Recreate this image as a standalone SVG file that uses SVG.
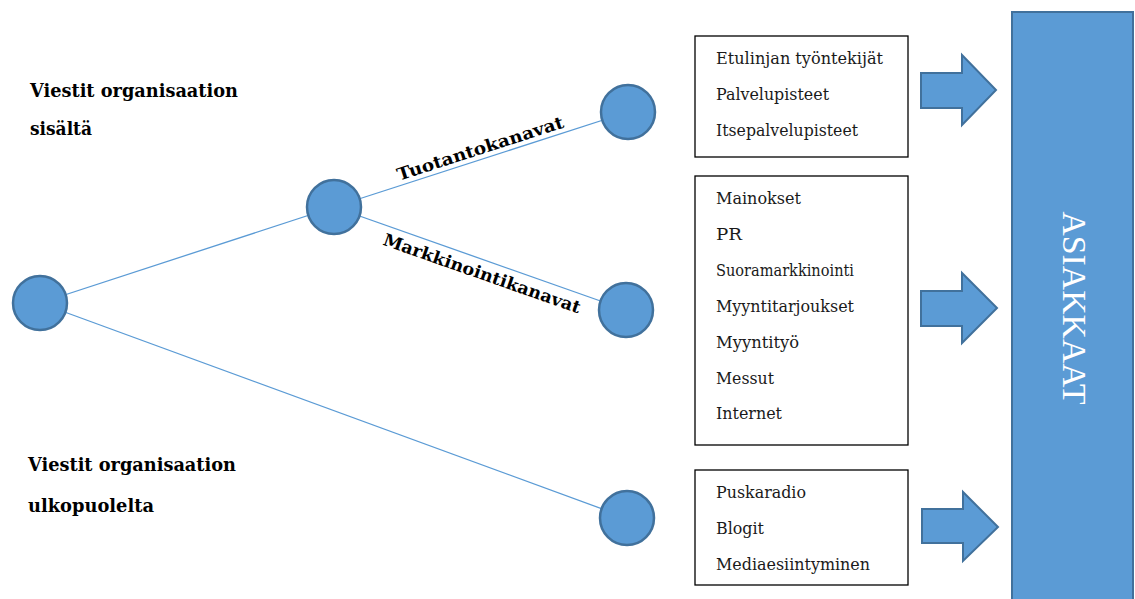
<svg xmlns="http://www.w3.org/2000/svg" width="1135" height="599" viewBox="0 0 1135 599">
  <style>
    .node { fill: #5B9BD5; stroke: #41719C; stroke-width: 2.5; }
    .edge { stroke: #5B9BD5; stroke-width: 1.3; fill: none; }
    .box { fill: #FFFFFF; stroke: #000000; stroke-width: 1.3; }
    .serif { font-family: "DejaVu Serif", "Liberation Serif", serif; }
    .item { font-size: 16px; fill: #1a1a1a; }
    .head { font-size: 18px; font-weight: bold; fill: #000000; }
    .edgelabel { font-size: 17px; font-weight: bold; fill: #000000; }
    .block { fill: #5B9BD5; stroke: #41719C; stroke-width: 2; }
    .bar-text { font-size: 33px; fill: #FFFFFF; }
  </style>

  <!-- connectors -->
  <g id="connectors" class="serif">
    <line class="edge" x1="40" y1="303" x2="334" y2="207"/>
    <line class="edge" x1="40" y1="303" x2="627" y2="518"/>
    <line class="edge" x1="334" y1="207" x2="628" y2="112"/>
    <line class="edge" x1="334" y1="207" x2="626" y2="310"/>
    <text class="edgelabel" text-anchor="middle" textLength="174" lengthAdjust="spacingAndGlyphs" transform="translate(482,154) rotate(-17.9)">Tuotantokanavat</text>
    <text class="edgelabel" text-anchor="middle" textLength="208" lengthAdjust="spacingAndGlyphs" transform="translate(480,279) rotate(19.4)">Markkinointikanavat</text>
  </g>

  <!-- branch nodes -->
  <g id="root"><circle class="node" cx="40" cy="303" r="27"/></g>
  <g id="internal"><circle class="node" cx="334" cy="207" r="27"/></g>
  <g id="production"><circle class="node" cx="628" cy="112" r="27"/></g>
  <g id="marketing"><circle class="node" cx="626" cy="310" r="27"/></g>
  <g id="external"><circle class="node" cx="627" cy="518" r="27"/></g>

  <g class="serif">
    <!-- side headings -->
    <g id="heading-inside">
      <text class="head" x="30" y="97" textLength="208" lengthAdjust="spacingAndGlyphs">Viestit organisaation</text>
      <text class="head" x="30" y="135" textLength="62" lengthAdjust="spacingAndGlyphs">sisältä</text>
    </g>
    <g id="heading-outside">
      <text class="head" x="28" y="471" textLength="208" lengthAdjust="spacingAndGlyphs">Viestit organisaation</text>
      <text class="head" x="28" y="512" textLength="126" lengthAdjust="spacingAndGlyphs">ulkopuolelta</text>
    </g>

    <!-- channel lists -->
    <g id="list-production">
      <rect class="box" x="695" y="36" width="213" height="121"/>
      <text class="item" x="716" y="64" textLength="167" lengthAdjust="spacingAndGlyphs">Etulinjan työntekijät</text>
      <text class="item" x="716" y="100" textLength="113" lengthAdjust="spacingAndGlyphs">Palvelupisteet</text>
      <text class="item" x="716" y="136" textLength="142" lengthAdjust="spacingAndGlyphs">Itsepalvelupisteet</text>
    </g>
    <g id="list-marketing">
      <rect class="box" x="695" y="176" width="213" height="269"/>
      <text class="item" x="716" y="204" textLength="85" lengthAdjust="spacingAndGlyphs">Mainokset</text>
      <text class="item" x="716" y="240" textLength="26" lengthAdjust="spacingAndGlyphs">PR</text>
      <text class="item" x="716" y="276" textLength="138" lengthAdjust="spacingAndGlyphs">Suoramarkkinointi</text>
      <text class="item" x="716" y="312" textLength="138" lengthAdjust="spacingAndGlyphs">Myyntitarjoukset</text>
      <text class="item" x="716" y="348" textLength="83" lengthAdjust="spacingAndGlyphs">Myyntityö</text>
      <text class="item" x="716" y="384" textLength="58" lengthAdjust="spacingAndGlyphs">Messut</text>
      <text class="item" x="716" y="419" textLength="66" lengthAdjust="spacingAndGlyphs">Internet</text>
    </g>
    <g id="list-external">
      <rect class="box" x="695" y="470" width="213" height="115"/>
      <text class="item" x="716" y="498" textLength="90" lengthAdjust="spacingAndGlyphs">Puskaradio</text>
      <text class="item" x="716" y="534" textLength="48" lengthAdjust="spacingAndGlyphs">Blogit</text>
      <text class="item" x="716" y="570" textLength="154" lengthAdjust="spacingAndGlyphs">Mediaesiintyminen</text>
    </g>
  </g>

  <!-- block arrows -->
  <g id="arrow-1"><polygon class="block" points="921,73 962,73 962,55 996,90 962,125 962,108 921,108"/></g>
  <g id="arrow-2"><polygon class="block" points="921,291 962,291 962,273 997,308 962,343 962,326 921,326"/></g>
  <g id="arrow-3"><polygon class="block" points="922,509 963,509 963,492 998,527 963,561 963,543 922,543"/></g>

  <!-- customers bar -->
  <g id="customers">
    <rect class="block" x="1012" y="12" width="121" height="600"/>
    <text class="bar-text" font-family="Liberation Serif, serif" text-anchor="middle" textLength="193" lengthAdjust="spacingAndGlyphs" transform="translate(1063,308) rotate(90)">ASIAKKAAT</text>
  </g>
</svg>
